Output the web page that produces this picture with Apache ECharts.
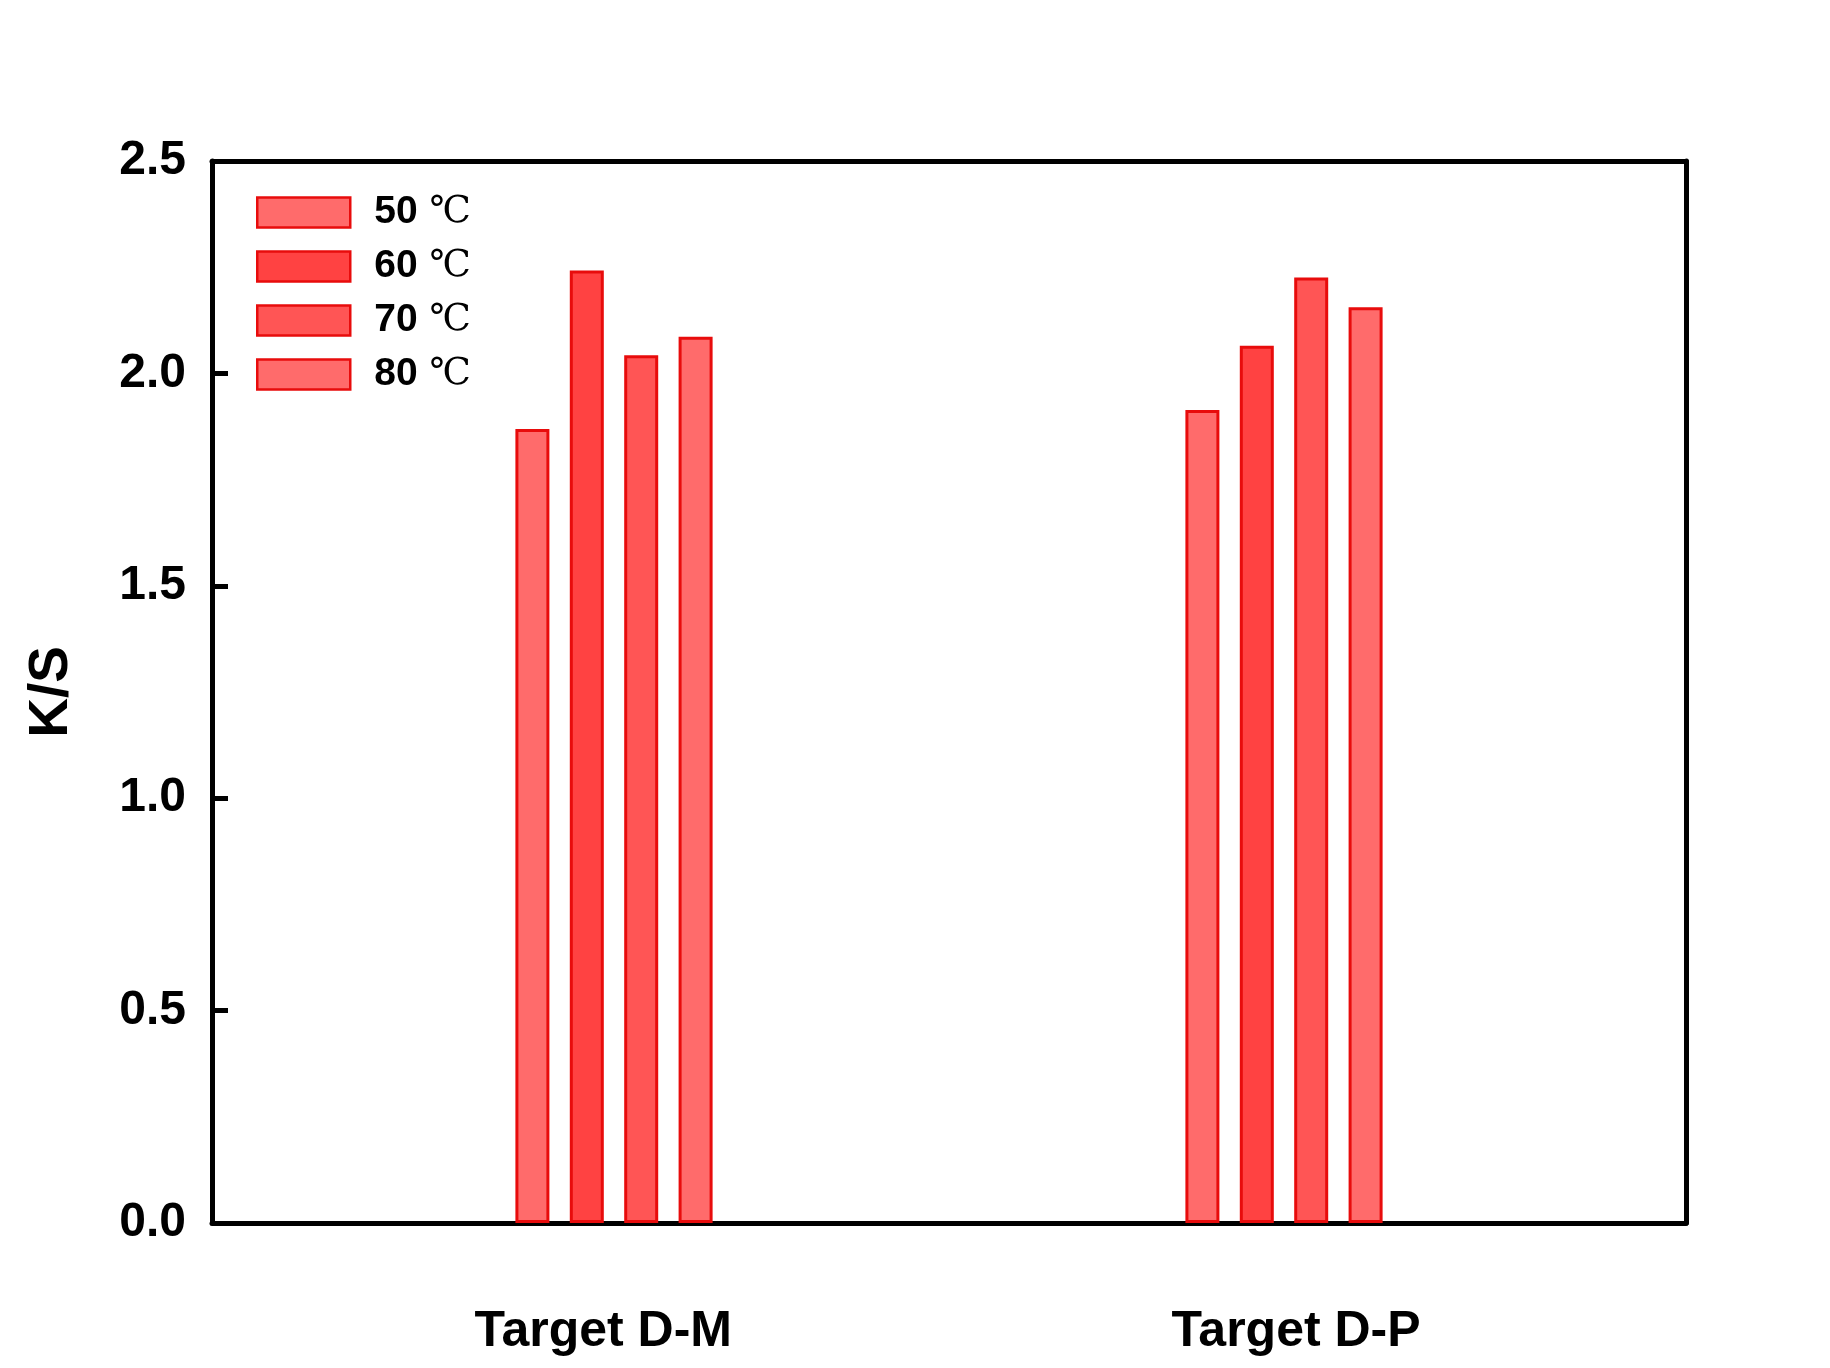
<!DOCTYPE html>
<html>
<head>
<meta charset="utf-8">
<script src="https://cdn.jsdelivr.net/npm/echarts@6/dist/echarts.min.js"></script>
<style>html,body{margin:0;padding:0;background:#fff}#c{width:1830px;height:1368px}</style>
</head>
<body>
<div id="c"></div>
<script>
const groupNames = ['Target D-M', 'Target D-P'];
const groupPositions = [3, 8];
const labelPositions = [2.92, 8.09];
const seriesNames = ['50 ℃', '60 ℃', '70 ℃', '80 ℃'];
const s50 = [1.869, 1.914];
const s60 = [2.242, 2.065];
const s70 = [2.043, 2.226];
const s80 = [2.086, 2.156];
const yTicks = [0, 0.5, 1.0, 1.5, 2.0, 2.5];
const colors = ['#ff6b6b', '#ff4242', '#ff5555', '#ff6b6b'];
const values = [s50, s60, s70, s80];

const FONT = 'Liberation Sans, Arial, sans-serif';
const chart = echarts.init(document.getElementById('c'));
chart.setOption({
  backgroundColor: '#fff',
  animation: false,
  grid: {left: 212, right: 144, top: 161, bottom: 145},
  legend: {
    orient: 'vertical', left: 256, top: 193, padding: 0,
    itemWidth: 93, itemHeight: 30, itemGap: 15, icon: 'rect',
    data: seriesNames,
    itemStyle: {borderColor: '#e80c0c', borderWidth: 2.5},
    formatter: function (n) { const p = n.split(' '); return '{b|' + p[0] + '}{c|' + ' ' + p[1] + '}'; },
    textStyle: {
      padding: [0, 0, 0, 19],
      rich: {
        b: {fontFamily: FONT, fontWeight: 'bold', fontSize: 39, color: '#000'},
        c: {fontFamily: 'DejaVu Serif, serif', fontWeight: 'normal', fontSize: 37, color: '#000'}
      }
    }
  },
  xAxis: [{
    type: 'value', min: 0, max: 11, position: 'bottom',
    axisLine: {show: true, onZero: false, lineStyle: {color: '#000', width: 5}},
    axisTick: {show: false}, splitLine: {show: false},
    axisLabel: {
      customValues: labelPositions,
      formatter: function (v) { const i = labelPositions.indexOf(v); return i >= 0 ? groupNames[i] : ''; },
      fontFamily: FONT, fontWeight: 'bold', fontSize: 50, color: '#000', margin: 84
    }
  }, {
    type: 'value', min: 0, max: 11, position: 'top',
    axisLine: {show: true, onZero: false, lineStyle: {color: '#000', width: 5}},
    axisTick: {show: false}, axisLabel: {show: false}, splitLine: {show: false}
  }],
  yAxis: [{
    type: 'value', min: 0, max: 2.5, interval: 0.5, position: 'left',
    name: 'K/S', nameLocation: 'middle', nameGap: 133,
    nameTextStyle: {fontFamily: FONT, fontWeight: 'bold', fontSize: 55, color: '#000'},
    axisLine: {show: true, onZero: false, lineStyle: {color: '#000', width: 5}},
    axisTick: {show: true, inside: true, length: 16, lineStyle: {color: '#000', width: 5}},
    splitLine: {show: false},
    axisLabel: {
      customValues: yTicks,
      formatter: function (v) { return v.toFixed(1); },
      fontFamily: FONT, fontWeight: 'bold', fontSize: 48, color: '#000', margin: 26
    }
  }, {
    type: 'value', min: 0, max: 2.5, position: 'right',
    axisLine: {show: true, onZero: false, lineStyle: {color: '#000', width: 5}},
    axisTick: {show: false}, axisLabel: {show: false}, splitLine: {show: false}
  }],
  series: seriesNames.map(function (name, k) {
    return {
      name: name, type: 'bar', xAxisIndex: 0, yAxisIndex: 0,
      barWidth: 34, barGap: '60%',
      itemStyle: {color: colors[k], borderColor: '#e80c0c', borderWidth: 3},
      data: groupPositions.map(function (x, i) { return [x, values[k][i]]; })
    };
  })
});
</script>
</body>
</html>
